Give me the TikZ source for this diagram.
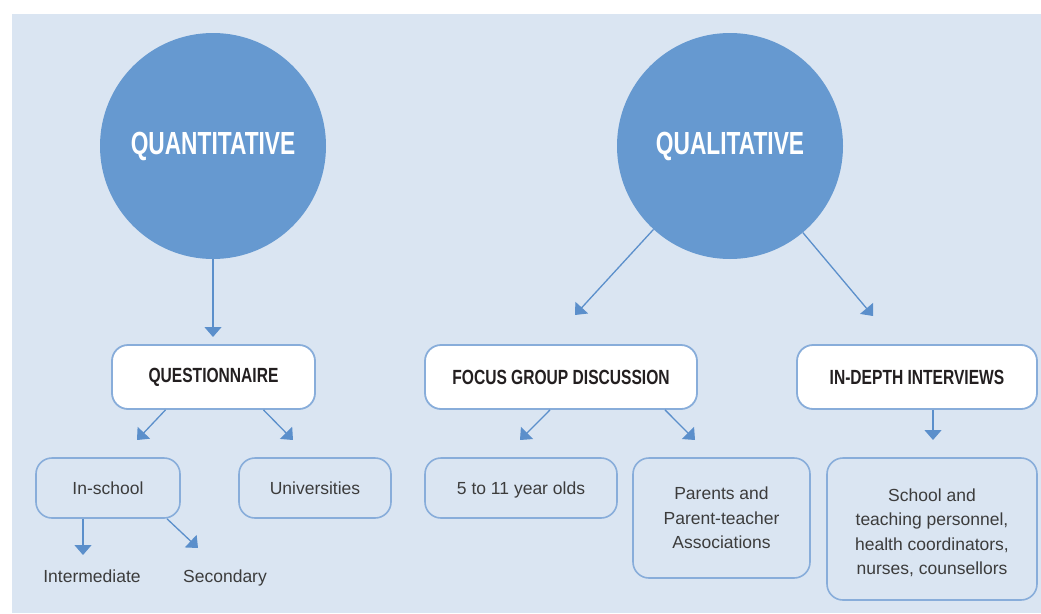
\documentclass[tikz,border=0pt]{standalone}
\usepackage{fontspec}
\setmainfont{Liberation Sans}
\newfontfamily\circfont[FakeStretch=0.71]{Liberation Sans}
\newfontfamily\headfont[FakeStretch=0.76]{Liberation Sans}
\usetikzlibrary{arrows.meta}
\definecolor{bgblue}{RGB}{218,229,242}
\definecolor{circblue}{RGB}{102,153,208}
\definecolor{arrblue}{RGB}{91,143,203}
\definecolor{boxline}{RGB}{136,173,218}
\definecolor{bodytext}{RGB}{60,60,60}
\definecolor{headtext}{RGB}{35,31,32}
\tikzset{
  bigcirc/.style={circle,fill=circblue,draw=none,minimum size=226pt,inner sep=0pt,
    text=white,font=\circfont\bfseries\fontsize{32}{34}\selectfont},
  headbox/.style={rectangle,rounded corners=16pt,fill=white,draw=boxline,line width=1.8pt,
    inner sep=0pt,text=headtext,font=\headfont\bfseries\fontsize{20.5}{23}\selectfont},
  subbox/.style={rectangle,rounded corners=16pt,draw=boxline,line width=1.6pt,
    inner sep=0pt,text=bodytext,align=center,font=\fontsize{17.5}{24.5}\selectfont},
  plain/.style={inner sep=0pt,anchor=base,text=bodytext,font=\fontsize{17.5}{21}\selectfont},
  arr/.style={draw=arrblue,line width=1.3pt,-{Triangle[width=17pt,length=10pt]}},
}
\begin{document}
\begin{tikzpicture}[x=1pt,y=-1pt]
\useasboundingbox (0,0) rectangle (1041,613);
\fill[bgblue] (12,14) rectangle (1041,613);
% circles
\node[bigcirc] (qt) at (213,146) {QUANTITATIVE};
\node[bigcirc] (ql) at (730,146) {QUALITATIVE};
% heading boxes
\node[headbox,minimum width=203pt,minimum height=64pt] (qn) at (213.5,377) {QUESTIONNAIRE};
\node[headbox,minimum width=272pt,minimum height=64pt] (fg) at (561,377) {FOCUS GROUP DISCUSSION};
\node[headbox,minimum width=240pt,minimum height=64pt] (id) at (917,377) {IN-DEPTH INTERVIEWS};
% sub boxes
\node[subbox,minimum width=144pt,minimum height=60pt] (ins) at (108,488) {In-school};
\node[subbox,minimum width=152pt,minimum height=60pt] (uni) at (315,488) {Universities};
\node[subbox,minimum width=192pt,minimum height=60pt,text depth=0pt] (yo) at (521,488) {5 to 11 year olds};
\node[subbox,minimum width=177pt,minimum height=120pt] (par) at (721.5,518) {Parents and\\Parent-teacher\\Associations};
\node[subbox,minimum width=210pt,minimum height=142pt] (sch) at (932,529) {\rule{0pt}{20pt}School and\\teaching personnel,\\health coordinators,\\nurses, counsellors};
% plain labels
\node[plain] (inter) at (92,582) {Intermediate};
\node[plain] (sec) at (225,582) {Secondary};
% arrow ends
\coordinate (e1) at (213,337);
\coordinate (e2) at (575,315);
\coordinate (e3) at (873,316);
\coordinate (e4) at (137,440);
\coordinate (e5) at (293,440);
\coordinate (e6) at (520,440);
\coordinate (e7) at (695,440);
\coordinate (e8) at (933,440);
\coordinate (e9) at (83,555);
\coordinate (e10) at (198,548);
% arrows
\draw[arr] (qt.south) -- (e1);
\draw[arr] (ql) -- (e2);
\draw[arr] (ql) -- (e3);
\draw[arr] ([xshift=-48pt]qn.south) -- (e4);
\draw[arr] ([xshift=50pt]qn.south) -- (e5);
\draw[arr] ([xshift=-11pt]fg.south) -- (e6);
\draw[arr] ([xshift=104pt]fg.south) -- (e7);
\draw[arr] ([xshift=16pt]id.south) -- (e8);
\draw[arr] ([xshift=-25pt]ins.south) -- (e9);
\draw[arr] ([xshift=59pt]ins.south) -- (e10);
\end{tikzpicture}
\end{document}
